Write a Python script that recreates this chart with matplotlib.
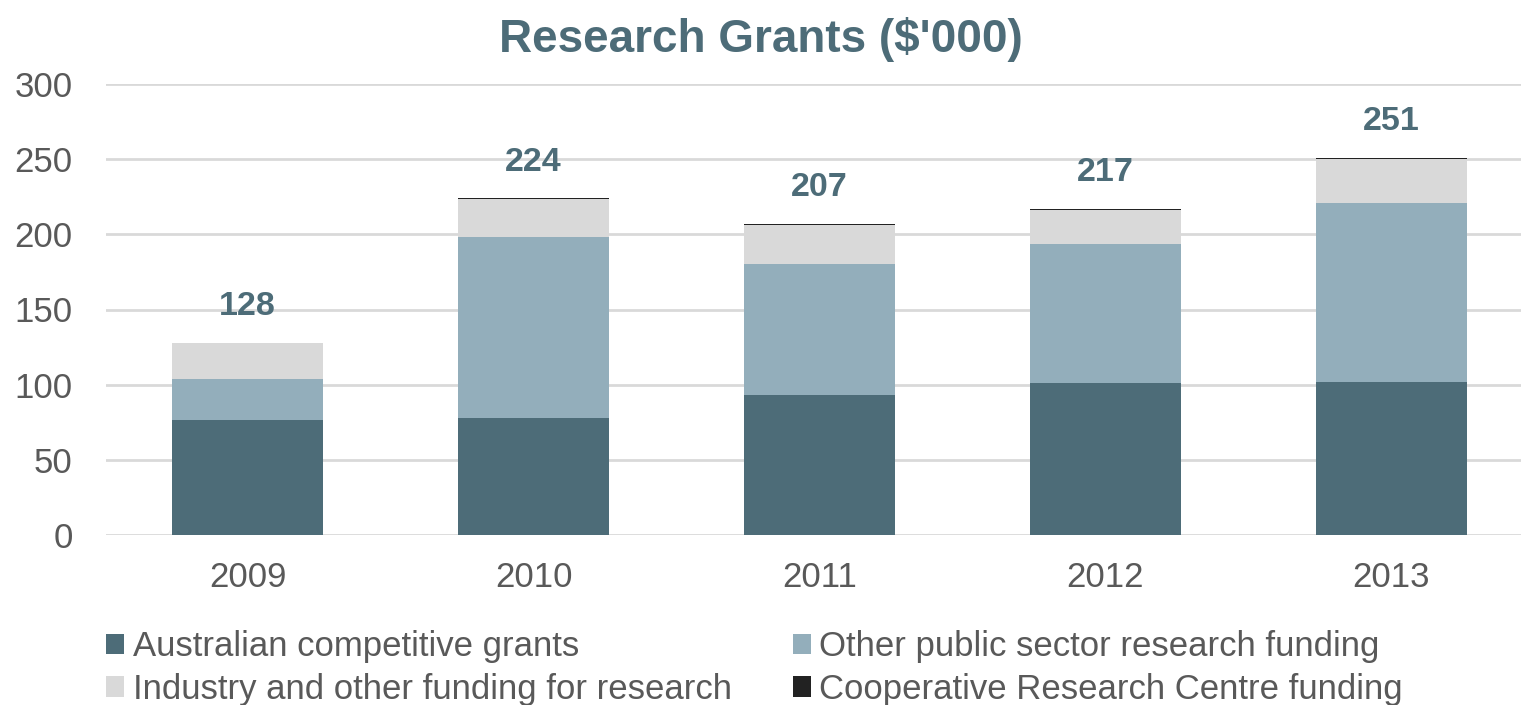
import matplotlib
matplotlib.use("Agg")
import matplotlib.pyplot as plt
import numpy as np

plt.rcParams['font.family'] = ['Liberation Sans', 'DejaVu Sans']

# Research grant income by source, $'000
years = ["2009", "2010", "2011", "2012", "2013"]
competitive = [76.5, 78.0, 93.0, 101.0, 102.0]
other_public = [27.5, 120.0, 87.0, 92.5, 119.0]
industry = [23.5, 25.7, 26.5, 22.5, 29.0]
crc = [0.5, 0.3, 0.5, 1.0, 1.0]

series_names = ["Australian competitive grants",
                "Other public sector research funding",
                "Industry and other funding for research",
                "Cooperative Research Centre funding"]
colors = ["#4d6c78", "#93aebb", "#d9d9d9", "#222222"]

TITLE_COLOR = "#4d6c78"
TEXT_COLOR = "#595959"

fig = plt.figure(figsize=(15.21, 7.05), dpi=100)
ax = fig.add_axes([106 / 1521, 1 - 535 / 705, 1 - 106 / 1521, (535 - 84) / 705])

x = np.arange(len(years))
width = 0.525
bottom = np.zeros(len(years))
bars = []
for vals, col in zip([competitive, other_public, industry, crc], colors):
    b = ax.bar(x, vals, width, bottom=bottom, color=col, zorder=2)
    bars.append(b)
    bottom += np.array(vals)

# Totals above each stack
for xi, tot in zip(x, bottom):
    ax.annotate(f"{tot:.0f}", (xi, tot), xytext=(0, 26), textcoords="offset points",
                ha="center", va="center", fontsize=24.5, fontweight="bold",
                color=TITLE_COLOR, annotation_clip=False)

ax.set_ylim(0, 300)
ax.set_xlim(-0.495, 4.453)
ax.set_yticks(range(0, 301, 50))
ax.set_xticks(x)
ax.set_xticklabels(years)
ax.yaxis.grid(True, color="#d9d9d9", linewidth=2, zorder=0)
ax.set_axisbelow(True)
for s in ax.spines.values():
    s.set_visible(False)
ax.tick_params(axis="both", length=0, labelsize=25, labelcolor=TEXT_COLOR)
ax.tick_params(axis="y", pad=24)
ax.tick_params(axis="x", pad=19)

fig.text(0.5, 1 - 40 / 705, "Research Grants ($'000)", ha="center", va="center",
         fontsize=33, fontweight="bold", color=TITLE_COLOR)

# Legend, filled column-wise
order = [0, 2, 1, 3]
leg = fig.legend([bars[i] for i in order], [series_names[i] for i in order],
                 ncol=2, loc="center left", bbox_to_anchor=(106 / 1521, 1 - 668 / 705),
                 frameon=False, fontsize=25, handlelength=0.52, handleheight=0.52,
                 handletextpad=0.25, columnspacing=1.75, labelspacing=0.27,
                 borderaxespad=0, borderpad=0)
for t in leg.get_texts():
    t.set_color(TEXT_COLOR)

fig.savefig("out.png", dpi=100)
